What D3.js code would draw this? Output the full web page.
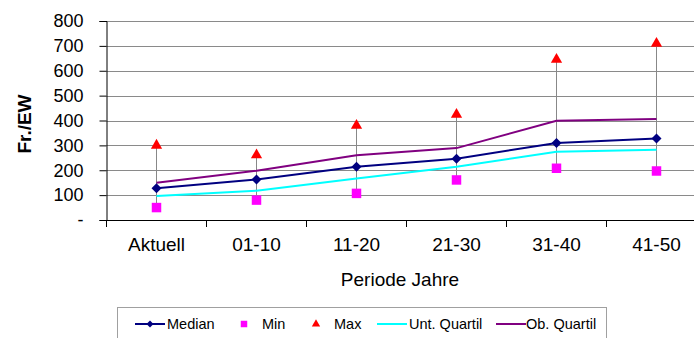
<!DOCTYPE html>
<html>
<head>
<meta charset="utf-8">
<script src="https://cdn.jsdelivr.net/npm/d3@7/dist/d3.min.js"></script>
<style>
  html, body { margin: 0; padding: 0; background: #fff; }
  svg { display: block; font-family: "Liberation Sans", Arial, sans-serif; }
</style>
</head>
<body>
<svg id="chart" width="694" height="338"></svg>
<script>
// Periods and per-period statistics (Fr./EW)
const categories = ["Aktuell", "01-10", "11-20", "21-30", "31-40", "41-50"];
const median     = [128, 163, 214, 246, 310, 328];
const minVals    = [50, 80, 107, 161, 208, 197];
const maxVals    = [300, 261, 380, 424, 645, 710];
const untQuartil = [96, 118, 167, 214, 274, 282];
const obQuartil  = [150, 198, 260, 289, 399, 406];
const yTicks     = [0, 100, 200, 300, 400, 500, 600, 700, 800];

const svg = d3.select("#chart");
const plotLeft = 106.5, plotRight = 706.5, plotTop = 21, plotBottom = 220;

const x = d3.scaleBand().domain(categories).range([plotLeft, plotRight]);
const y = d3.scaleLinear().domain([0, 800]).range([plotBottom, plotTop]);
const cx = c => x(c) + x.bandwidth() / 2;

// horizontal grid
svg.append("g")
  .selectAll("line")
  .data(yTicks.filter(t => t > 0))
  .join("line")
  .attr("x1", plotLeft).attr("x2", plotRight)
  .attr("y1", d => Math.round(y(d)) + 0.5).attr("y2", d => Math.round(y(d)) + 0.5)
  .attr("stroke", "#8a8a8a").attr("stroke-width", 1);

// y axis
const yAxis = d3.axisLeft(y).tickValues(yTicks).tickSize(7).tickPadding(16)
  .tickFormat(d => d === 0 ? "-" : d);
const gy = svg.append("g").attr("transform", `translate(${plotLeft},0)`).call(yAxis);
gy.select(".domain").attr("stroke", "#000");
gy.selectAll(".tick line").attr("stroke", "#000");
gy.selectAll(".tick text").attr("font-size", 18).attr("fill", "#000")
  .attr("font-family", "Liberation Sans, Arial, sans-serif");

// x axis with ticks on category boundaries
const gx = svg.append("g").attr("transform", `translate(0,${plotBottom})`);
gx.append("line").attr("x1", plotLeft).attr("x2", plotRight).attr("y1", 0.5).attr("y2", 0.5)
  .attr("stroke", "#000");
const bounds = categories.map(c => x(c)).concat([plotRight]);
gx.selectAll("line.tk").data(bounds).join("line").attr("class", "tk")
  .attr("x1", d => d).attr("x2", d => d).attr("y1", 0).attr("y2", 7)
  .attr("stroke", "#000");
gx.selectAll("text").data(categories).join("text")
  .attr("x", d => cx(d)).attr("y", 31)
  .attr("text-anchor", "middle").attr("font-size", 19).attr("fill", "#000")
  .text(d => d);

// axis titles
svg.append("text").attr("x", 400).attr("y", 286).attr("text-anchor", "middle")
  .attr("font-size", 19).attr("fill", "#000").text("Periode Jahre");
svg.append("text").attr("transform", "translate(31,124) rotate(-90)")
  .attr("text-anchor", "middle").attr("font-size", 19).attr("font-weight", "bold")
  .attr("fill", "#000").text("Fr./EW");

// high-low lines
svg.append("g").selectAll("line").data(categories).join("line")
  .attr("x1", d => cx(d)).attr("x2", d => cx(d))
  .attr("y1", (d, i) => y(minVals[i])).attr("y2", (d, i) => y(maxVals[i]))
  .attr("stroke", "#888").attr("stroke-width", 1);

const line = d3.line().x((d, i) => cx(categories[i])).y(d => y(d));
svg.append("path").datum(untQuartil).attr("d", line)
  .attr("fill", "none").attr("stroke", "#00ffff").attr("stroke-width", 2);
svg.append("path").datum(obQuartil).attr("d", line)
  .attr("fill", "none").attr("stroke", "#800080").attr("stroke-width", 2);
svg.append("path").datum(median).attr("d", line)
  .attr("fill", "none").attr("stroke", "#000080").attr("stroke-width", 2);

const diamond = d3.symbol().type(d3.symbolSquare).size(50)();
const square = d3.symbol().type(d3.symbolSquare).size(90)();
const triangle = d3.symbol().type(d3.symbolTriangle).size(55)();

svg.append("g").selectAll("path").data(median).join("path")
  .attr("d", diamond)
  .attr("transform", (d, i) => `translate(${cx(categories[i])},${y(d)}) rotate(45)`)
  .attr("fill", "#000080");
svg.append("g").selectAll("path").data(minVals).join("path")
  .attr("d", square)
  .attr("transform", (d, i) => `translate(${cx(categories[i])},${y(d)})`)
  .attr("fill", "#ff00ff");
svg.append("g").selectAll("path").data(maxVals).join("path")
  .attr("d", triangle)
  .attr("transform", (d, i) => `translate(${cx(categories[i])},${y(d)})`)
  .attr("fill", "#ff0000");

// legend
const lg = svg.append("g");
lg.append("rect").attr("x", 117.5).attr("y", 307.5).attr("width", 489).attr("height", 40)
  .attr("fill", "#fff").attr("stroke", "#a0a0a0");
const ly = 324;
const legendItems = [
  { name: "Median", kind: "lineMarker", color: "#000080", x0: 135, tx: 167 },
  { name: "Min", kind: "square", color: "#ff00ff", x0: 244, tx: 262 },
  { name: "Max", kind: "triangle", color: "#ff0000", x0: 316, tx: 334 },
  { name: "Unt. Quartil", kind: "line", color: "#00ffff", x0: 377, tx: 409 },
  { name: "Ob. Quartil", kind: "line", color: "#800080", x0: 496, tx: 526 }
];
legendItems.forEach(it => {
  if (it.kind === "line" || it.kind === "lineMarker") {
    lg.append("line").attr("x1", it.x0).attr("x2", it.x0 + 30).attr("y1", ly).attr("y2", ly)
      .attr("stroke", it.color).attr("stroke-width", 2);
    if (it.kind === "lineMarker") {
      lg.append("path").attr("d", d3.symbol().type(d3.symbolSquare).size(24)())
        .attr("transform", `translate(${it.x0 + 15},${ly}) rotate(45)`).attr("fill", it.color);
    }
  } else if (it.kind === "square") {
    lg.append("path").attr("d", d3.symbol().type(d3.symbolSquare).size(42)())
      .attr("transform", `translate(${it.x0},${ly})`).attr("fill", it.color);
  } else {
    lg.append("path").attr("d", d3.symbol().type(d3.symbolTriangle).size(30)())
      .attr("transform", `translate(${it.x0},${ly})`).attr("fill", it.color);
  }
  lg.append("text").attr("x", it.tx).attr("y", ly + 5).attr("font-size", 14.5)
    .attr("fill", "#000").text(it.name);
});
</script>
</body>
</html>
